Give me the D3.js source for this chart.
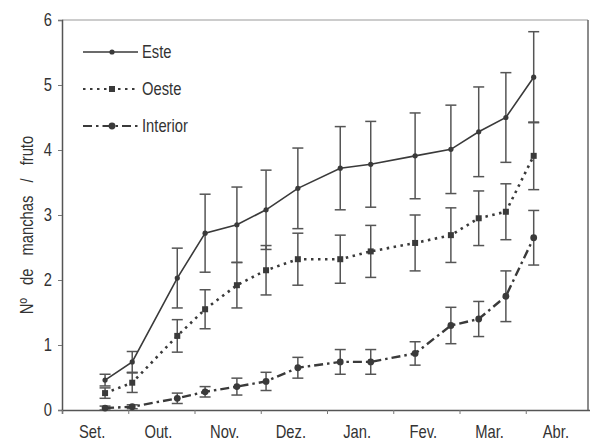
<!DOCTYPE html>
<html>
<head>
<meta charset="utf-8">
<script src="https://cdn.jsdelivr.net/npm/d3@7"></script>
<style>
  html, body { margin: 0; padding: 0; background: #fff; }
  svg text { font-family: "Liberation Sans", Arial, sans-serif; fill: #333; }
</style>
</head>
<body>
<svg id="chart" width="590" height="448"></svg>
<script>
// Months of the season (Sept -> April)
const months = ["Set.", "Out.", "Nov.", "Dez.", "Jan.", "Fev.", "Mar.", "Abr."];
// Sampling times, in months counted from 1 September
const sampleMonth = [0.65, 1.06, 1.74, 2.16, 2.64, 3.08, 3.56, 4.20, 4.66, 5.33, 5.87, 6.29, 6.70, 7.12];

// Mean number of spots per fruit and error (half bar length)
const esteMean = [0.46, 0.74, 2.03, 2.72, 2.85, 3.08, 3.41, 3.72, 3.78, 3.91, 4.01, 4.28, 4.50, 5.12];
const esteErr  = [0.09, 0.16, 0.46, 0.60, 0.58, 0.61, 0.62, 0.64, 0.66, 0.66, 0.68, 0.69, 0.69, 0.70];
const oesteMean = [0.26, 0.42, 1.14, 1.55, 1.92, 2.15, 2.32, 2.32, 2.44, 2.57, 2.69, 2.95, 3.05, 3.91];
const oesteErr  = [0.08, 0.15, 0.25, 0.30, 0.35, 0.38, 0.40, 0.37, 0.40, 0.43, 0.42, 0.42, 0.43, 0.52];
const interiorMean = [0.03, 0.05, 0.18, 0.28, 0.36, 0.44, 0.65, 0.74, 0.74, 0.87, 1.30, 1.40, 1.75, 2.65];
const interiorErr  = [0.03, 0.03, 0.08, 0.08, 0.13, 0.14, 0.16, 0.19, 0.19, 0.18, 0.28, 0.27, 0.39, 0.42];

const seriesNames = ["Este", "Oeste", "Interior"];
const yTicks = [0, 1, 2, 3, 4, 5, 6];

const svg = d3.select("#chart");
const plotL = 62, plotR = 588, plotT = 20, plotB = 410;
const narrow = 0.82; // horizontal squeeze for a condensed look

const x = d3.scaleLinear().domain([0, 8]).range([plotL, 592]);
const y = d3.scaleLinear().domain([0, 6]).range([plotB, plotT]);

const ink = "#3a3a3a";

// condensed text helper
function label(parent, tx, ty, str, size, anchor, extra) {
  return parent.append("text")
    .attr("transform", `translate(${tx},${ty}) ${extra || ""} scale(${narrow},1)`)
    .attr("text-anchor", anchor || "start")
    .attr("font-size", size)
    .text(str);
}

// frame
svg.append("line").attr("x1", plotL).attr("x2", plotR).attr("y1", plotT).attr("y2", plotT)
  .attr("stroke", "#9a9a9a").attr("stroke-width", 1.2);
svg.append("line").attr("x1", plotR).attr("x2", plotR).attr("y1", plotT).attr("y2", plotB)
  .attr("stroke", "#666").attr("stroke-width", 1.5);

// y axis
const yAxis = svg.append("g").attr("transform", `translate(${plotL},0)`)
  .call(d3.axisLeft(y).tickValues(yTicks).tickSize(4).tickPadding(6).tickFormat(d3.format("d")));
yAxis.select(".domain").attr("stroke", "#555").attr("stroke-width", 1.5);
yAxis.selectAll(".tick line").attr("stroke", "#777");
yAxis.selectAll(".tick text")
  .attr("font-size", 18).attr("fill", "#333")
  .attr("x", -10 / narrow)
  .attr("transform", `scale(${narrow},1)`);

// x axis: ticks at month boundaries, labels centred in each month
const xAxis = svg.append("g").attr("transform", `translate(0,${plotB})`)
  .call(d3.axisBottom(x).tickValues(d3.range(0, 9)).tickSize(4).tickFormat(""));
xAxis.select(".domain").attr("stroke", "#555").attr("stroke-width", 1.5);
xAxis.selectAll(".tick line").attr("stroke", "#777");
const xLabels = svg.append("g");
months.forEach((m, i) => label(xLabels, x(i + 0.5) - 3, plotB + 28, m, 18, "middle"));

// y axis title
label(svg, 33, (plotT + plotB) / 2 + 10, "Nº  de  manchas  /  fruto", 18, "middle", "rotate(-90)")
  .attr("word-spacing", 3).style("white-space", "pre");

const styles = {
  Este:     { dash: null,          width: 1.6, marker: "dot" },
  Oeste:    { dash: "2.5,4.5",     width: 2.6, marker: "square" },
  Interior: { dash: "9,4,2.5,4",   width: 2.4, marker: "circle" }
};
const means = { Este: esteMean, Oeste: oesteMean, Interior: interiorMean };
const errs  = { Este: esteErr,  Oeste: oesteErr,  Interior: interiorErr };

const line = d3.line().x(d => x(d.t)).y(d => y(d.v));

function drawMarker(g, kind, cx, cy) {
  if (kind === "dot") {
    g.append("circle").attr("cx", cx).attr("cy", cy).attr("r", 2.6).attr("fill", ink);
  } else if (kind === "square") {
    g.append("rect").attr("x", cx - 3).attr("y", cy - 3).attr("width", 6).attr("height", 6).attr("fill", ink);
  } else {
    g.append("circle").attr("cx", cx).attr("cy", cy).attr("r", 3.4).attr("fill", ink);
  }
}

seriesNames.forEach(name => {
  const pts = sampleMonth.map((t, i) => ({ t, v: means[name][i], e: errs[name][i] }));
  const st = styles[name];
  const g = svg.append("g");

  // error bars
  const cap = 5.5;
  pts.forEach(p => {
    const cx = x(p.t), y1 = y(p.v + p.e), y0 = y(Math.max(0, p.v - p.e));
    g.append("line").attr("x1", cx).attr("x2", cx).attr("y1", y1).attr("y2", y0)
      .attr("stroke", "#555").attr("stroke-width", 1.5);
    [y1, y0].forEach(yy => g.append("line").attr("x1", cx - cap).attr("x2", cx + cap)
      .attr("y1", yy).attr("y2", yy).attr("stroke", "#555").attr("stroke-width", 1.5));
  });

  g.append("path").datum(pts).attr("d", line)
    .attr("fill", "none").attr("stroke", ink).attr("stroke-width", st.width)
    .attr("stroke-dasharray", st.dash);
  pts.forEach(p => drawMarker(g, st.marker, x(p.t), y(p.v)));
});

// legend
const legend = svg.append("g");
seriesNames.forEach((name, i) => {
  const ly = 52 + i * 37, st = styles[name];
  legend.append("line").attr("x1", 83).attr("x2", 138).attr("y1", ly).attr("y2", ly)
    .attr("stroke", ink).attr("stroke-width", Math.min(st.width, 2))
    .attr("stroke-dasharray", st.dash);
  drawMarker(legend, st.marker, 112, ly);
  label(legend, 142, ly + 6, name, 18);
});
</script>
</body>
</html>
